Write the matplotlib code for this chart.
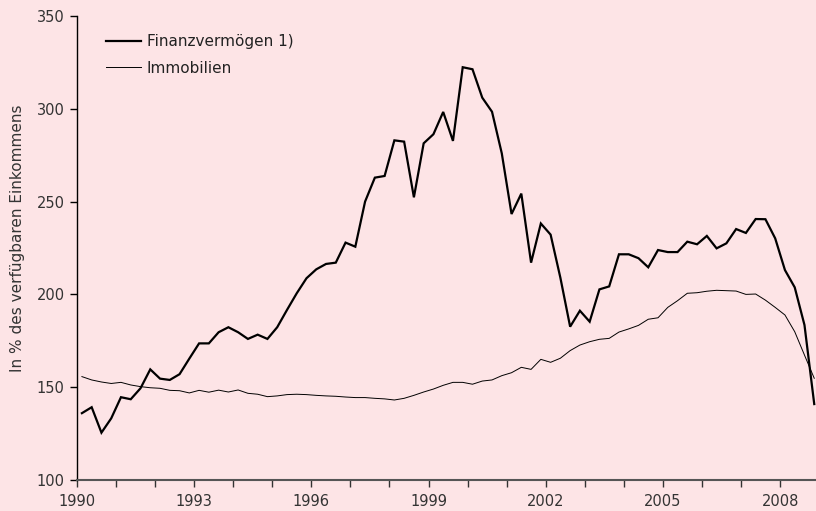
import numpy as np
import matplotlib
matplotlib.use('Agg')
import matplotlib.pyplot as plt

# Quartalswerte 1990 Q1 - 2008 Q4, in % des verfuegbaren Einkommens
finanz = [136.0, 139.2, 125.5, 133.2, 144.6, 143.5, 149.4, 159.6, 154.6, 153.9,
          157.0, 165.4, 173.6, 173.6, 179.6, 182.3, 179.6, 176.0, 178.3, 176.0,
          182.3, 191.6, 200.6, 208.7, 213.5, 216.4, 217.1, 227.9, 225.7, 250.0,
          262.9, 263.8, 283.0, 282.3, 252.3, 281.4, 286.3, 298.3, 282.7, 322.4,
          321.3, 306.0, 298.4, 276.0, 243.3, 254.3, 217.1, 238.2, 232.2, 209.0,
          182.6, 191.2, 185.3, 202.7, 204.3, 221.6, 221.6, 219.5, 214.6, 223.9,
          222.8, 222.8, 228.4, 227.0, 231.5, 224.8, 227.5, 235.2, 233.1, 240.6,
          240.5, 230.2, 213.1, 203.8, 183.5, 140.9]

immobilien = [155.7, 153.9, 152.8, 152.0, 152.6, 151.2, 150.3, 149.7, 149.4, 148.3,
              148.1, 146.9, 148.3, 147.3, 148.4, 147.4, 148.5, 146.7, 146.2, 144.9,
              145.3, 146.0, 146.2, 146.0, 145.6, 145.3, 145.1, 144.7, 144.4, 144.4,
              144.0, 143.7, 143.1, 144.0, 145.6, 147.4, 149.0, 151.0, 152.6, 152.6,
              151.6, 153.3, 153.9, 156.2, 157.8, 160.7, 159.6, 165.0, 163.4, 165.6,
              169.7, 172.7, 174.5, 175.8, 176.3, 179.7, 181.4, 183.3, 186.6, 187.4,
              193.0, 196.6, 200.6, 200.9, 201.7, 202.2, 202.0, 201.8, 200.0, 200.2,
              196.9, 193.0, 188.9, 179.9, 167.3, 154.8]

jahre = list(range(1990, 2009))

bg = '#fde4e6'
plt.rcParams['font.family'] = ['DejaVu Sans']

fig = plt.figure(figsize=(8.16, 5.11), dpi=100, facecolor=bg)
ax = fig.add_axes([0.0944, 0.0607, 0.9056, 0.908], facecolor=bg)

# Quartale in der Mitte des jeweiligen Intervalls
x = 1990 + 0.125 + 0.25 * np.arange(len(finanz))
ax.plot(x, finanz, color='black', lw=1.6, label='Finanzvermögen 1)', solid_joinstyle='miter')
ax.plot(x, immobilien, color='black', lw=0.7, label='Immobilien')

ax.set_xlim(1990, 2008.92)
ax.set_ylim(100, 350)
ax.set_yticks([100, 150, 200, 250, 300, 350])
ax.set_xticks(jahre)
ax.set_xticklabels([str(j) if (j - 1990) % 3 == 0 else '' for j in jahre])

for s in ['top', 'right']:
    ax.spines[s].set_visible(False)
ax.spines['left'].set_color('black')
ax.spines['left'].set_linewidth(1.0)
ax.spines['bottom'].set_color('#555555')
ax.spines['bottom'].set_linewidth(1.5)
ax.tick_params(axis='y', direction='out', length=5, width=1, labelsize=10.5, pad=4, colors='black', labelcolor='#333333')
ax.tick_params(axis='x', direction='out', length=5, width=1, labelsize=10.5, pad=5, colors='#333333', labelcolor='#333333')

ax.set_ylabel('In % des verfügbaren Einkommens', fontsize=11, color='#333333')
ax.yaxis.set_label_coords(-0.07, 0.52)

ax.legend(loc='upper left', bbox_to_anchor=(0.02, 0.99), frameon=False, fontsize=11,
          handlelength=2.3, handletextpad=0.4, labelspacing=0.75)
for t in ax.get_legend().get_texts():
    t.set_color('#222222')

fig.savefig('out.png', dpi=100, facecolor=bg)
